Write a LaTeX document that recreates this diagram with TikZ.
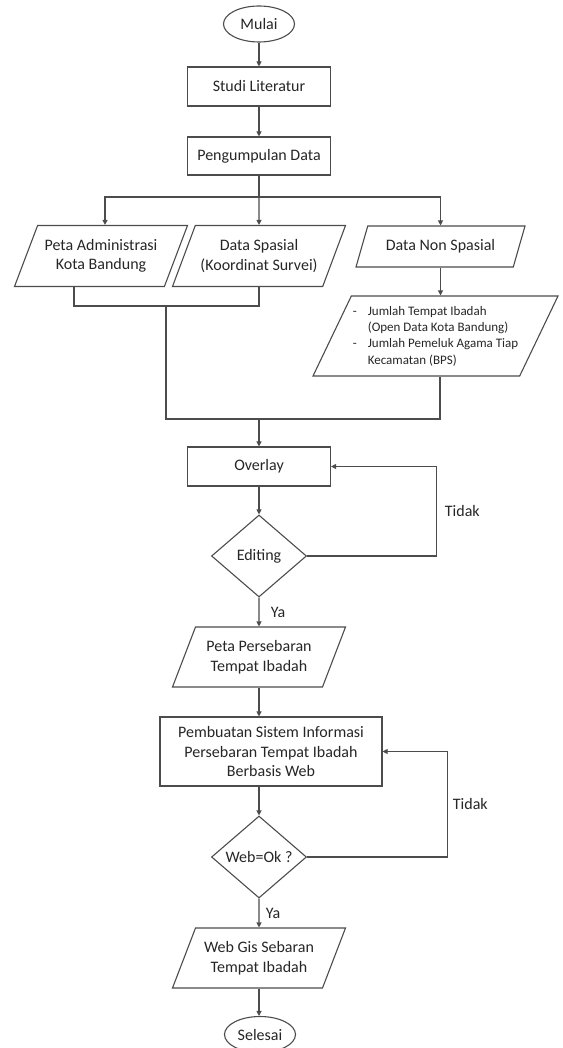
\documentclass[tikz,border=0pt]{standalone}
\usepackage{fontspec}
\setmainfont{Carlito}
\usetikzlibrary{arrows.meta, shapes.geometric}

\begin{document}
\begin{tikzpicture}[
    x=1pt, y=-1pt,
    font=\fontsize{16}{19.5}\selectfont,
    text=black!85,
    % Box Styles
    process/.style={
        rectangle, draw=black!70, line width=1.1pt,
        minimum width=143pt, minimum height=39pt, align=center
    },
    terminal/.style={
        ellipse, draw=black!70, line width=1.1pt,
        minimum width=71pt, minimum height=36pt, inner sep=0pt
    },
    io/.style={
        trapezium, trapezium left angle=60, trapezium right angle=120,
        trapezium stretches body, draw=black!70, line width=1.1pt,
        minimum width=173pt, minimum height=61pt, inner xsep=0pt, align=center
    },
    decision/.style={
        diamond, draw=black!70, line width=1.1pt,
        minimum width=95pt, minimum height=82pt, inner sep=0pt
    },
    % Arrow Style
    myArrow/.style={-{Triangle[length=5pt, width=5pt]}, line width=1.1pt, draw=black!70},
    myLine/.style={line width=1.1pt, draw=black!70}
]
    \useasboundingbox (0,0) rectangle (562,1048);

    % --- START ---
    \node[terminal] (mulai) at (259,24) {Mulai};
    \node[process] (studi) at (259,86.5) {Studi Literatur};
    \node[process, minimum height=38pt] (kumpul) at (259,156) {Pengumpulan Data};

    % --- DATA ---
    \node[io] (admin) at (101,256) {Peta Administrasi\\Kota Bandung};
    \node[io] (spasial) at (259,256) {Data Spasial\\(Koordinat Survei)};
    \node[io, minimum width=169pt, minimum height=41pt] (nonspasial) at (440.5,246.5) {Data Non Spasial};
    \node[io, minimum width=245pt, minimum height=80pt, align=left,
          font=\fontsize{13}{16.3}\selectfont] (jumlah) at (435.5,336)
        {\makebox[15pt][l]{-}Jumlah Tempat Ibadah\\
         \hspace*{15pt}(Open Data Kota Bandung)\\
         \makebox[15pt][l]{-}Jumlah Pemeluk Agama Tiap\\
         \hspace*{15pt}Kecamatan (BPS)};

    % --- PROCESSING ---
    \node[process] (overlay) at (259,466.5) {Overlay};
    \node[decision] (editing) at (259,556) {Editing};
    \node[io, minimum height=60pt] (petasebar) at (259,657) {Peta Persebaran\\Tempat Ibadah};
    \node[process, minimum width=222pt, minimum height=69pt] (pembuatan) at (271,751.5)
        {Pembuatan Sistem Informasi\\Persebaran Tempat Ibadah\\Berbasis Web};
    \node[decision] (webok) at (259,857) {Web=Ok ?};
    \node[io, minimum height=60pt] (webgis) at (259,958) {Web Gis Sebaran\\Tempat Ibadah};
    \node[terminal] (selesai) at (260,1034.5) {Selesai};

    % --- ARROWS ---
    \draw[myArrow] (mulai) -- (studi);
    \draw[myArrow] (studi) -- (kumpul);

    % Split into data sources
    \coordinate (split) at (259,197);
    \draw[myLine] (kumpul.south) -- (split);
    \draw[myArrow] (split) -- (spasial.north);
    \draw[myArrow] (split) -| ([xshift=4pt]admin.north);
    \draw[myArrow] (split) -| (nonspasial.north);
    \draw[myArrow] (nonspasial.south) -- (nonspasial.south |- jumlah.north);

    % Join into overlay
    \coordinate (join) at (166,306);
    \coordinate (merge) at (166,419);
    \draw[myLine] ([xshift=-27pt]admin.south) |- (join) -| (spasial.south);
    \draw[myLine] (join) -- (merge) -| ([xshift=4.5pt]jumlah.south);
    \draw[myArrow] (merge -| overlay.north) -- (overlay.north);

    % Editing loop
    \draw[myArrow] (overlay) -- (editing);
    \draw[myArrow] (editing.east) -- ++(129,0) |- node[pos=0.25, right=5pt] {Tidak} (overlay.east);
    \draw[myArrow] (editing.south) -- node[right=8pt] {Ya} (petasebar.north);
    \draw[myArrow] (petasebar.south) -- (petasebar.south |- pembuatan.north);

    % Web check loop
    \draw[myArrow] (pembuatan.south -| webok.north) -- (webok.north);
    \draw[myArrow] (webok.east) -- ++(140,0) |- node[pos=0.25, right=2pt] {Tidak} (pembuatan.east);
    \draw[myArrow] (webok.south) -- node[right=3pt] {Ya} (webgis.north);
    \draw[myArrow] (webgis.south) -- (webgis.south |- selesai.north);

\end{tikzpicture}
\end{document}
